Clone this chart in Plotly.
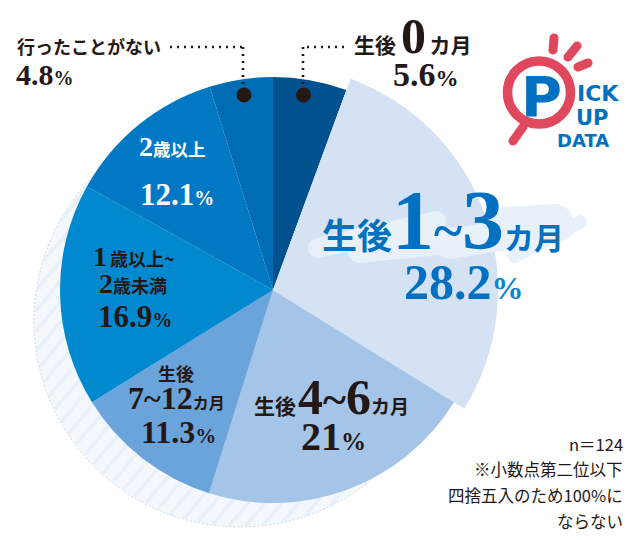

import math
import plotly.graph_objects as go

categories = ["生後0カ月", "生後1~3カ月", "生後4~6カ月", "生後7~12カ月", "1歳以上~2歳未満", "2歳以上", "行ったことがない"]
values = [5.6, 28.2, 21, 11.3, 16.9, 12.1, 4.8]
colors = ["#00518d", "#d5e2f4", "#a4c4e8", "#6ba4da", "#0089cf", "#0078c3", "#006cb3"]
note_lines = ["n＝124", "※小数点第二位以下", "四捨五入のため100%に", "ならない"]

W, H = 640, 540
CX, CY = 273, 290
INK = "#231815"
BLUE = "#0070c0"
PINK = "#e0485e"
JP = "Noto Sans CJK JP"
SERIF = "Liberation Serif"


def px(x):
    return x / W


def py(y):
    return 1 - y / H


def pie_domain(r):
    return dict(x=[px(CX - r), px(CX + r)], y=[py(CY + r), py(CY - r)])


def capsule(x0, y0, x1, y1, w):
    a = math.atan2(y1 - y0, x1 - x0)
    pts = []
    for k in range(13):
        t = a + math.pi / 2 + math.pi * k / 12
        pts.append((x0 + w / 2 * math.cos(t), y0 + w / 2 * math.sin(t)))
    for k in range(13):
        t = a - math.pi / 2 + math.pi * k / 12
        pts.append((x1 + w / 2 * math.cos(t), y1 + w / 2 * math.sin(t)))
    d = "M" + "L".join(f"{px(x):.5f},{py(y):.5f}" for x, y in pts) + "Z"
    return d


shapes = []


def circle(x, y, r, fill="rgba(0,0,0,0)", line=None, lw=0, layer="above", dash="solid"):
    shapes.append(dict(type="circle", xref="paper", yref="paper", layer=layer,
                       x0=px(x - r), x1=px(x + r), y0=py(y + r), y1=py(y - r),
                       fillcolor=fill, line=dict(color=line or "rgba(0,0,0,0)", width=lw, dash=dash)))


def seg(x0, y0, x1, y1, color, w, layer="above", dash="solid"):
    shapes.append(dict(type="line", xref="paper", yref="paper", layer=layer,
                       x0=px(x0), x1=px(x1), y0=py(y0), y1=py(y1),
                       line=dict(color=color, width=w, dash=dash)))


def blob(x0, y0, x1, y1, w, color):
    shapes.append(dict(type="path", xref="paper", yref="paper", layer="above",
                       path=capsule(x0, y0, x1, y1, w), fillcolor=color,
                       line=dict(width=0)))


# hatched disc behind the pie
RX, RY, RR = 240, 321, 206
circle(RX, RY, RR, fill="#f4f8fd", line="#c9cdd2", lw=0.8, layer="below", dash="2px,2px")
ang = math.radians(50)
ux, uy = math.cos(ang), -math.sin(ang)
nx, ny = math.sin(ang), math.cos(ang)
off = -RR + 4
while off < RR - 2:
    half = math.sqrt(RR ** 2 - off ** 2) - 1
    mx, my = RX + nx * off, RY + ny * off
    seg(mx - ux * half, my - uy * half, mx + ux * half, my + uy * half, "#e8f0f9", 3.5, layer="below")
    off += 13

# soft cloud behind the main label
CLOUD = "#e8f0fa"
for c in [(318, 248, 436, 221, 20), (360, 250, 450, 240, 26), (400, 250, 500, 240, 18),
          (450, 244, 560, 226, 30), (505, 225, 555, 222, 36), (515, 256, 580, 222, 14)]:
    blob(*c, CLOUD)

# leader lines
seg(170, 47, 243, 47, INK, 2.6, dash="2px,5px")
seg(243, 47, 243, 84, INK, 2.6, dash="2px,5px")
seg(344, 47, 303, 47, INK, 2.6, dash="2px,5px")
seg(303, 47, 303, 84, INK, 2.6, dash="2px,5px")
circle(244, 95, 7.5, fill=INK)
circle(303.5, 95, 7.5, fill=INK)

# badge
circle(539, 92.5, 31.5, line=PINK, lw=9.5)
blob(523, 127, 513, 141, 9, PINK)
blob(554, 38, 553, 50, 9, PINK)
blob(577, 46, 568, 57, 9, PINK)
blob(588, 63, 578, 67, 9, PINK)

annotations = []


def txt(x, y, text, size=16, color=INK, family=JP, anchor="center", bold=False):
    if bold:
        text = f"<b>{text}</b>"
    annotations.append(dict(xref="paper", yref="paper", x=px(x), y=py(y), text=text, showarrow=False,
                            xanchor=anchor, yanchor="middle", borderpad=0, borderwidth=0,
                            font=dict(size=size, color=color, family=family)))


def j(s, size):
    return f'<span style="font-family:{JP};font-size:{size}px;font-weight:bold">{s}</span>'


def n(s, size):
    return f'<span style="font-family:{SERIF};font-size:{size}px;font-weight:bold">{s}</span>'


def pct(v, size, small, color=None):
    tail = f'<span style="font-size:{small}px;font-family:{SERIF};font-weight:bold'
    if color:
        tail += f";fill:{color}"
    tail += '">%</span>'
    return n(f"{v:g}", size) + tail


txt(413, 36, j("生後", 21) + n(" ", 20) + n("0", 50) + n(" ", 14) + j("カ月", 21))
txt(426, 75, pct(values[0], 34, 23))
txt(89, 46, j("行ったことがない", 18))
txt(45, 75, pct(values[6], 30, 20))
txt(443, 221, j("生後", 35) + n("1", 84) + n("~", 54) + n("3", 84) + j("カ月", 30), color=BLUE)
txt(464, 282, pct(values[1], 50, 32, color="#0a84cf"), color=BLUE)
txt(331, 397, j("生後", 21) + n(" ", 8) + n("4", 50) + n("~", 44) + n("6", 50) + j("カ月", 19))
txt(333, 436, pct(values[2], 40, 25))
txt(176, 373, j("生後", 18))
txt(176, 398, n("7~12", 32) + j("カ月", 16))
txt(178, 432, pct(values[3], 32, 21))
txt(134, 257, n("1", 28) + n(" ", 12) + j("歳以上~", 18))
txt(133, 283, n("2", 28) + j("歳未満", 18))
txt(135, 316, pct(values[4], 31, 20))
txt(172, 147, n("2", 28) + j("歳以上", 17.5), color="white")
txt(177, 194, pct(values[5], 31, 20), color="white")

for text, y in zip(note_lines, [444, 469, 495, 521]):
    txt(623, y, text, size=16.5, anchor="right")

# badge lettering
LOGO = "DejaVu Sans"
txt(541, 97, "<b>P</b>", size=56, color=BLUE, family=LOGO)
txt(598, 93, "<b>ICK</b>", size=22, color=BLUE, family=LOGO)
txt(592, 118, "<b>UP</b>", size=21, color=BLUE, family=LOGO)
txt(583, 140, "<b>DATA</b>", size=18, color=BLUE, family=LOGO)

fig = go.Figure()
fig.add_trace(go.Pie(values=values, labels=categories, sort=False, direction="clockwise", rotation=0,
                     marker=dict(colors=colors, line=dict(width=0)), textinfo="none",
                     domain=pie_domain(213), showlegend=False))
overlay = ["rgba(0,0,0,0)" if i != 1 else colors[1] for i in range(len(values))]
fig.add_trace(go.Pie(values=values, labels=categories, sort=False, direction="clockwise", rotation=0,
                     marker=dict(colors=overlay, line=dict(width=0)), textinfo="none",
                     domain=pie_domain(225), showlegend=False, hoverinfo="skip"))
fig.update_layout(width=W, height=H, margin=dict(l=0, r=0, t=0, b=0), paper_bgcolor="white",
                  plot_bgcolor="white", shapes=shapes, annotations=annotations, showlegend=False)
fig.write_html("out.html", config=dict(displayModeBar=False),
               post_script="document.body.style.margin='0';")
